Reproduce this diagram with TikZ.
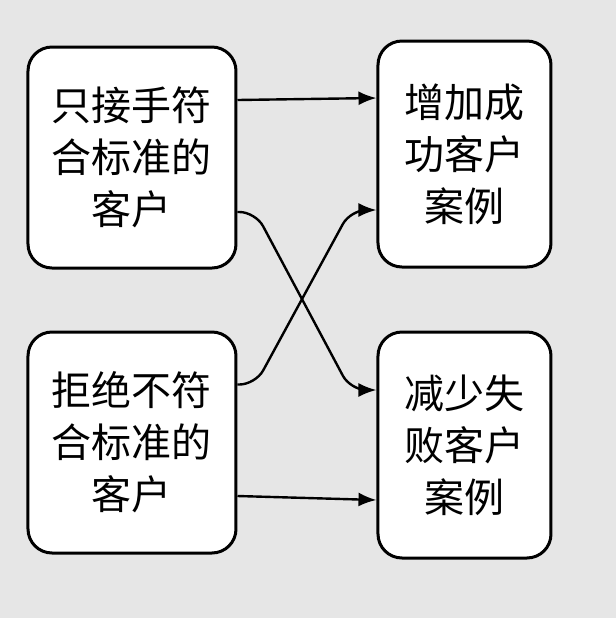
\documentclass[tikz,border=0pt]{standalone}
\usepackage{fontspec}
\setmainfont{Noto Sans CJK SC}
\usetikzlibrary{arrows.meta,positioning}
\definecolor{bgcol}{HTML}{E6E6E6}
\tikzset{
  casebox/.style={
    draw,
    line width=1.5pt,
    rounded corners=12pt,
    fill=white,
    align=center,
    font=\fontsize{20}{26}\selectfont,
    inner sep=0pt
  },
  leftbox/.style={
    casebox,
    minimum width=104pt,
    minimum height=110.5pt
  },
  rightbox/.style={
    casebox,
    minimum width=86.5pt,
    minimum height=113pt
  },
  casearrow/.style={
    -{Latex[length=9pt,width=7pt]},
    line width=1.2pt
  },
  crossarrow/.style={
    casearrow,
    rounded corners=8pt
  }
}
\begin{document}
\begin{tikzpicture}[x=0.5pt,y=-0.5pt]
    \fill[bgcol] (0,0) rectangle (616,618);
    \useasboundingbox (0,0) rectangle (616,618);

    \node[leftbox] (accept) at (132,157.5) {只接手符\\合标准的\\客户};
    \node[leftbox] (reject) at (132,442.5) {拒绝不符\\合标准的\\客户};
    \node[rightbox] (success) at (464.5,154) {增加成\\功客户\\案例};
    \node[rightbox] (failure) at (464.5,445) {减少失\\败客户\\案例};

    \coordinate (acceptA) at ([yshift=28.75pt]accept.east);
    \coordinate (acceptB) at ([yshift=-27.25pt]accept.east);
    \coordinate (rejectA) at ([yshift=29pt]reject.east);
    \coordinate (rejectB) at ([yshift=-26.75pt]reject.east);
    \coordinate (successA) at ([yshift=28pt]success.west);
    \coordinate (successB) at ([yshift=-28pt]success.west);
    \coordinate (failureA) at ([yshift=27.5pt]failure.west);
    \coordinate (failureB) at ([yshift=-27.5pt]failure.west);

    \draw[casearrow] (acceptA) -- (successA);
    \draw[crossarrow] (acceptB) -- ([xshift=9pt]acceptB) -- ([xshift=-13pt]failureA) -- (failureA);
    \draw[crossarrow] (rejectA) -- ([xshift=9pt]rejectA) -- ([xshift=-13pt]successB) -- (successB);
    \draw[casearrow] (rejectB) -- (failureB);
  \end{tikzpicture}
\end{document}
